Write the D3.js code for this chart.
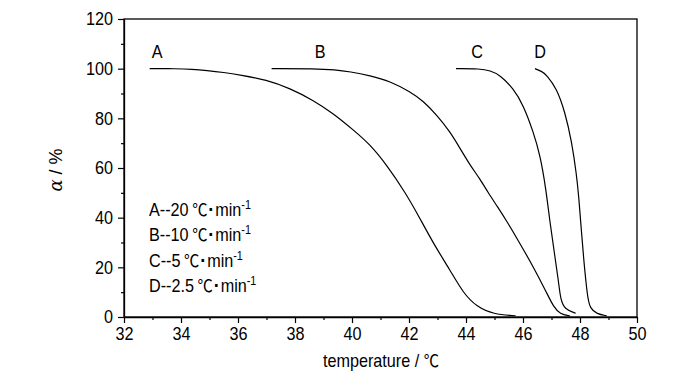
<!DOCTYPE html>
<html><head><meta charset="utf-8">
<script src="https://cdn.jsdelivr.net/npm/d3@7"></script>
<style>
body{margin:0;background:#fff;}
svg{display:block;font-family:"Liberation Sans",Arial,sans-serif;}
.nC{transform-box:fill-box;transform-origin:center;transform:scaleX(0.9);}
.nL{transform-box:fill-box;transform-origin:left center;transform:scaleX(0.9);}
.nR{transform-box:fill-box;transform-origin:right center;transform:scaleX(0.9);}
.cj{font-family:"Noto Sans CJK SC",sans-serif;}
</style></head>
<body><svg id="c" width="700" height="373"></svg>
<script>
const xTicks = [32,34,36,38,40,42,44,46,48,50];
const yTicks = [0,20,40,60,80,100,120];
const seriesNames = ["A","B","C","D"];
const legendRates = ["20","10","5","2.5"];

const tempA  = [32.9,33.8,34.4,34.9,35.5,36.07,37.0,37.82,38.64,39.34,40.05,40.63,41.22,41.86,42.3,42.85,43.44,43.91,44.38,44.96,45.74];
const alphaA = [100,100,99.8,99.3,98.5,97.5,95.5,92.1,87.3,82,75.3,69.5,61.2,50.3,41.5,29.7,18.9,9.5,4.1,1.1,0.5];

const tempB  = [37.18,38.7,39.4,39.93,40.63,41.33,42.04,42.5,42.97,43.44,43.79,44.14,44.49,44.78,45.1,45.43,45.78,46.36,46.83,47.07,47.3,47.65];
const alphaB = [100,100,99.6,98.8,97.2,95.0,90.7,87.0,81.4,74.6,67.9,61.2,55.6,50.0,44.5,38.6,31.8,20.3,9.8,4.1,1.2,0.4];

const tempC  = [43.65,44.49,44.85,45.19,45.66,46.01,46.36,46.6,46.8,46.95,47.12,47.24,47.32,47.47,47.85];
const alphaC = [100,100,99.2,97.5,92,85.4,74.6,65.2,52,37.7,24.3,14.9,6.8,3.1,1.5];

const tempD  = [46.42,46.65,46.83,47.18,47.47,47.71,47.88,47.96,48.04,48.12,48.26,48.35,48.59,48.94];
const alphaD = [100,99,97.5,92,82.7,70.6,57.2,48,36,24.3,8,3.5,1.2,0.5];

const labelT = [33.16,38.88,44.39,46.6];

const svg = d3.select("#c");
const m = {l:124, r:637, t:19, b:317};
const x = d3.scaleLinear().domain([32,50]).range([m.l,m.r]);
const y = d3.scaleLinear().domain([0,120]).range([m.b,m.t]);

const xMinor = d3.range(33,50,2);
const yMinor = d3.range(10,120,20);
const gx = svg.append("g").attr("transform",`translate(0,${m.b})`);
gx.call(d3.axisBottom(x).tickValues(xTicks).tickSize(6).tickSizeOuter(0).tickPadding(4));
gx.append("g").call(d3.axisBottom(x).tickValues(xMinor).tickSize(3).tickFormat("")).select(".domain").remove();
gx.selectAll(".tick text").attr("class","nC");
const gy = svg.append("g").attr("transform",`translate(${m.l},0)`);
gy.call(d3.axisLeft(y).tickValues(yTicks).tickSize(6).tickSizeOuter(0).tickPadding(5));
gy.append("g").call(d3.axisLeft(y).tickValues(yMinor).tickSize(3).tickFormat("")).select(".domain").remove();
gy.selectAll(".tick text").attr("class","nR");
svg.selectAll(".tick text").attr("font-size",18).attr("font-family","Liberation Sans, Arial, sans-serif").attr("fill","#000");
svg.selectAll(".tick line").attr("stroke","#000").attr("stroke-width",1.2);
svg.selectAll(".domain").attr("stroke","#000").attr("stroke-width",1.3);
svg.append("rect").attr("x",m.l).attr("y",m.t).attr("width",m.r-m.l).attr("height",m.b-m.t)
  .attr("fill","none").attr("stroke","#000").attr("stroke-width",1.3);

const line = d3.line().x(d=>x(d[0])).y(d=>y(d[1])).curve(d3.curveBasis);
const all = [[tempA,alphaA],[tempB,alphaB],[tempC,alphaC],[tempD,alphaD]];
all.forEach(([t,a])=>{
  svg.append("path").attr("d",line(t.map((v,i)=>[v,a[i]])))
    .attr("fill","none").attr("stroke","#000").attr("stroke-width",1.2);
});

seriesNames.forEach((n,i)=>{
  svg.append("text").attr("class","nC").attr("x",x(labelT[i])).attr("y",y(100)-11)
    .attr("text-anchor","middle").attr("font-size",18).text(n);
});

seriesNames.forEach((n,i)=>{
  const tx = svg.append("text").attr("class","nL").attr("x",149).attr("y",216+i*25.5).attr("font-size",18);
  tx.append("tspan").text(n+"--"+legendRates[i]);
  tx.append("tspan").attr("class","cj").attr("font-size",17).attr("dx",4).text("\u2103");
  tx.append("tspan").attr("font-weight","bold").attr("font-size",20).attr("dx",1).text("\u00b7");
  tx.append("tspan").attr("dx",1).text("min");
  tx.append("tspan").attr("font-size",12).attr("dy",-7).text("-1");
});

const xl = svg.append("text").attr("class","nC").attr("x",381).attr("y",367).attr("text-anchor","middle").attr("font-size",18);
xl.append("tspan").text("temperature / ");
xl.append("tspan").attr("class","cj").attr("font-size",17).text("\u2103");
const yl = svg.append("text").attr("transform","translate(62,170) rotate(-90)").attr("text-anchor","middle").attr("font-size",18);
yl.append("tspan").attr("font-style","italic").attr("font-family","DejaVu Serif, serif").text("\u03b1");
yl.append("tspan").text(" / %");
</script></body></html>
